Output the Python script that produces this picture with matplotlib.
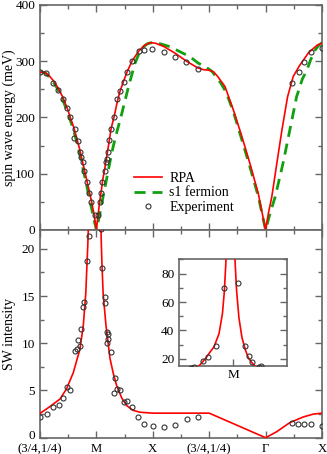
import numpy as np
import matplotlib
matplotlib.use('Agg')
import matplotlib.pyplot as plt
import matplotlib.transforms as mtransforms
from matplotlib.ticker import MultipleLocator

plt.rcParams['font.family'] = ['Liberation Serif', 'DejaVu Serif']
plt.rcParams['font.size'] = 9.5

#######################################################################################
# path (3/4,1/4) - M - X - (3/4,1/4) - Gamma - X, one unit per segment

k_ticks = [0, 1, 2, 3, 4, 5]
k_labels = ['(3/4,1/4)', 'M', 'X', '(3/4,1/4)', 'Γ', 'X']

# spin wave energy, RPA
rpa_k = [0.0, 0.06, 0.15, 0.24, 0.33, 0.41, 0.5, 0.53, 0.6, 0.7, 0.78, 0.86, 0.92, 0.96, 1.0,
         1.03, 1.06, 1.09, 1.11, 1.15, 1.19, 1.23, 1.26, 1.32, 1.37, 1.42, 1.48, 1.54, 1.63,
         1.75, 1.85, 1.95, 2.05, 2.2, 2.4, 2.6, 2.8, 2.9, 3.0, 3.08, 3.15, 3.28, 3.43, 3.58,
         3.72, 3.87, 4.0, 4.05, 4.11, 4.2, 4.29, 4.39, 4.49, 4.6, 4.67, 4.76, 4.85, 4.92, 5.0]
rpa_e = [280, 281, 276, 265, 251, 235, 212, 202, 182, 145, 110, 75, 48, 27, 0,
         27, 52, 72, 88, 110, 135, 160, 180, 204, 228, 247, 264, 280, 300,
         318, 328, 333, 332, 326, 314, 300, 288, 285, 284, 281, 273, 255, 213, 166,
         119, 65, 0, 30, 59, 119, 178, 237, 273, 292, 302, 315, 323, 329, 332]

# spin wave energy, s1 fermion
s1_k = [0.0, 0.1, 0.2, 0.3, 0.4, 0.5, 0.6, 0.7, 0.8, 0.9, 0.95, 1.0,
        1.06, 1.12, 1.18, 1.27, 1.33, 1.45, 1.57, 1.68, 1.76, 1.83, 1.9, 1.98,
        2.1, 2.3, 2.5, 2.66, 2.8, 2.95, 3.05, 3.2, 3.3, 3.43, 3.58, 3.72, 3.87, 4.0,
        4.08, 4.17, 4.31, 4.43, 4.55, 4.65, 4.73, 4.8, 4.88, 4.94, 5.0]
s1_e = [282, 279, 268, 253, 232, 207, 176, 138, 92, 45, 22, 0,
        28, 60, 90, 136, 162, 207, 255, 295, 315, 325, 331, 333,
        332, 326, 316, 308, 297, 289, 282, 262, 245, 210, 160, 113, 60, 0,
        30, 59, 119, 178, 237, 268, 284, 303, 320, 328, 333]

# spin wave energy, experiment
exp_k = [0.0, 0.106, 0.236, 0.325, 0.408, 0.485, 0.532, 0.615, 0.608, 0.668, 0.709, 0.72,
         0.757, 0.78, 0.833, 0.863, 0.898, 0.97, 1.034, 1.064, 1.087, 1.105, 1.147, 1.165,
         1.182, 1.2, 1.218, 1.253, 1.318, 1.371, 1.418, 1.484, 1.537, 1.631, 1.75, 1.844,
         1.99, 2.2, 2.4, 2.594, 2.796, 4.468, 4.592, 4.681, 4.8, 4.995]
exp_e = [280, 279, 262, 248, 233, 217, 200, 180, 163, 159, 139, 129,
         120, 104, 85, 65, 50, 27, 27, 50, 65, 85, 104, 120,
         127, 138, 160, 180, 200, 232, 247, 263, 280, 300, 318, 320,
         322, 316, 308, 299, 287, 261, 280, 299, 316, 323]

# SW intensity, RPA (diverges at M)
rpa_int_k = [0.0, 0.177, 0.355, 0.473, 0.591, 0.709, 0.768, 0.811, 0.848, 0.87, 0.894, 0.922,
             0.941, 0.952, 0.961, 0.985, 1.011, 1.02, 1.033, 1.05, 1.07, 1.085, 1.1, 1.12,
             1.17, 1.241, 1.3, 1.36, 1.45, 1.537, 1.65, 1.773, 2.0, 3.0, 4.0, 4.196, 4.43,
             4.67, 4.846, 5.0]
rpa_int = [2.57, 3.3, 4.1, 5.2, 6.9, 9.4, 11.9, 15.2, 20.5, 24.5, 28.5, 37.8,
           51.8, 68.0, 89.8, np.nan, 89.8, 68.0, 49.0, 35.0, 26.0, 21.0, 18.2, 15.2,
           11.9, 8.4, 6.8, 5.5, 4.2, 3.4, 2.9, 2.7, 2.6, 2.6, 0.0, 0.63, 1.6,
           2.2, 2.5, 2.6]

# SW intensity, experiment
exp_int_k = [0.0, 0.118, 0.236, 0.331, 0.414, 0.473, 0.532, 0.62, 0.656, 0.674, 0.715, 0.72,
             0.768, 0.78, 0.833, 0.861, 0.904, 0.95, 1.027, 1.069, 1.089, 1.105, 1.158, 1.147,
             1.193, 1.206, 1.211, 1.182, 1.253, 1.33, 1.371, 1.418, 1.312, 1.489, 1.548,
             1.637, 1.743, 1.849, 1.998, 2.2, 2.4, 2.6, 2.8, 4.46, 4.58, 4.68, 4.8, 5.0]
exp_int = [2.2, 2.5, 3.2, 3.5, 4.2, 5.4, 5.1, 9.2, 9.4, 10.3, 9.7, 11.5,
           13.8, 14.4, 18.7, 21.4, 29.1, 69.5, 73.7, 29.1, 22.1, 18.0, 14.9, 14.3,
           11.2, 11.0, 10.5, 10.0, 9.1, 6.3, 5.2, 5.0, 4.7, 3.8, 3.9,
           3.2, 2.2, 1.4, 1.2, 1.1, 1.3, 2.0, 2.2, 1.6, 1.4, 1.45, 1.45, 1.2]

#######################################################################################

spine_color = '#666666'


def style_axes(ax):
    for s in ax.spines.values():
        s.set_color(spine_color)
        s.set_linewidth(1.2)
    ax.tick_params(which='both', direction='in', top=True, right=True, color=spine_color,
                   labelsize=9.5)
    ax.tick_params(which='major', length=5, width=1.0)
    ax.tick_params(which='minor', length=3, width=1.0)


fig = plt.figure(figsize=(3.27, 4.54), dpi=100)

ax1 = fig.add_axes([0.1223, 0.4934, 0.8624, 0.4956])
ax2 = fig.add_axes([0.1223, 0.0359, 0.8624, 0.4575])
ax3 = fig.add_axes([0.5483, 0.1938, 0.3285, 0.2350])

# energy panel
ax1.plot(rpa_k, rpa_e, color='red', lw=1.2, label='RPA', zorder=3)
ax1.plot(s1_k, s1_e, color='#10a010', lw=2.0, dashes=(4, 2.5), label='s1 fermion', zorder=2)
ax1.plot(exp_k, exp_e, 'o', mfc='none', mec='#333333', mew=0.8, ms=3.6, label='Experiment', zorder=4)
ax1.set_xlim(0, 5)
ax1.set_ylim(0, 400)
ax1.set_xticks(k_ticks)
ax1.set_xticklabels([])
ax1.xaxis.set_minor_locator(MultipleLocator(0.5))
ax1.yaxis.set_major_locator(MultipleLocator(100))
ax1.yaxis.set_minor_locator(MultipleLocator(50))
ax1.set_ylabel('spin wave energy (meV)', fontsize=10)
ax1.yaxis.set_label_coords(-0.085, 0.5)
style_axes(ax1)
ax1.legend(loc='lower left', bbox_to_anchor=(0.31, 0.04), frameon=False, fontsize=10,
           handlelength=2.0, handletextpad=0.5, labelspacing=0.12, borderpad=0)

# intensity panel
ax2.plot(rpa_int_k, rpa_int, color='red', lw=1.2, zorder=3)
ax2.plot(exp_int_k, exp_int, 'o', mfc='none', mec='#333333', mew=0.8, ms=3.6, zorder=4)
ax2.set_xlim(0, 5)
ax2.set_ylim(0, 22)
ax2.set_xticks(k_ticks)
ax2.set_xticklabels(k_labels)
ax2.xaxis.set_minor_locator(MultipleLocator(0.5))
ax2.set_yticks([0, 5, 10, 15, 20])
ax2.yaxis.set_minor_locator(MultipleLocator(2.5))
ax2.set_ylabel('SW intensity', fontsize=10)
ax2.yaxis.set_label_coords(-0.085, 0.5)
style_axes(ax2)
ax2.tick_params(axis='x', pad=4, labelsize=9.2)

# lift the "0" label a little so it clears the first k-point label
zero_label = ax2.yaxis.get_major_ticks()[0].label1
zero_label.set_transform(zero_label.get_transform()
                         + mtransforms.ScaledTranslation(0, 2.5 / 72, fig.dpi_scale_trans))

# inset around M
ax3.plot(rpa_int_k, rpa_int, color='red', lw=1.2, zorder=3)
ax3.plot(exp_int_k, exp_int, 'o', mfc='none', mec='#333333', mew=0.8, ms=3.6, zorder=4)
ax3.set_xlim(0.7, 1.3)
ax3.set_ylim(15, 90)
ax3.set_xticks([1])
ax3.set_xticklabels(['M'])
ax3.yaxis.set_major_locator(MultipleLocator(20))
ax3.yaxis.set_minor_locator(MultipleLocator(10))
style_axes(ax3)
ax3.tick_params(axis='x', top=False, pad=2)

plt.savefig('out.png', dpi=100)
